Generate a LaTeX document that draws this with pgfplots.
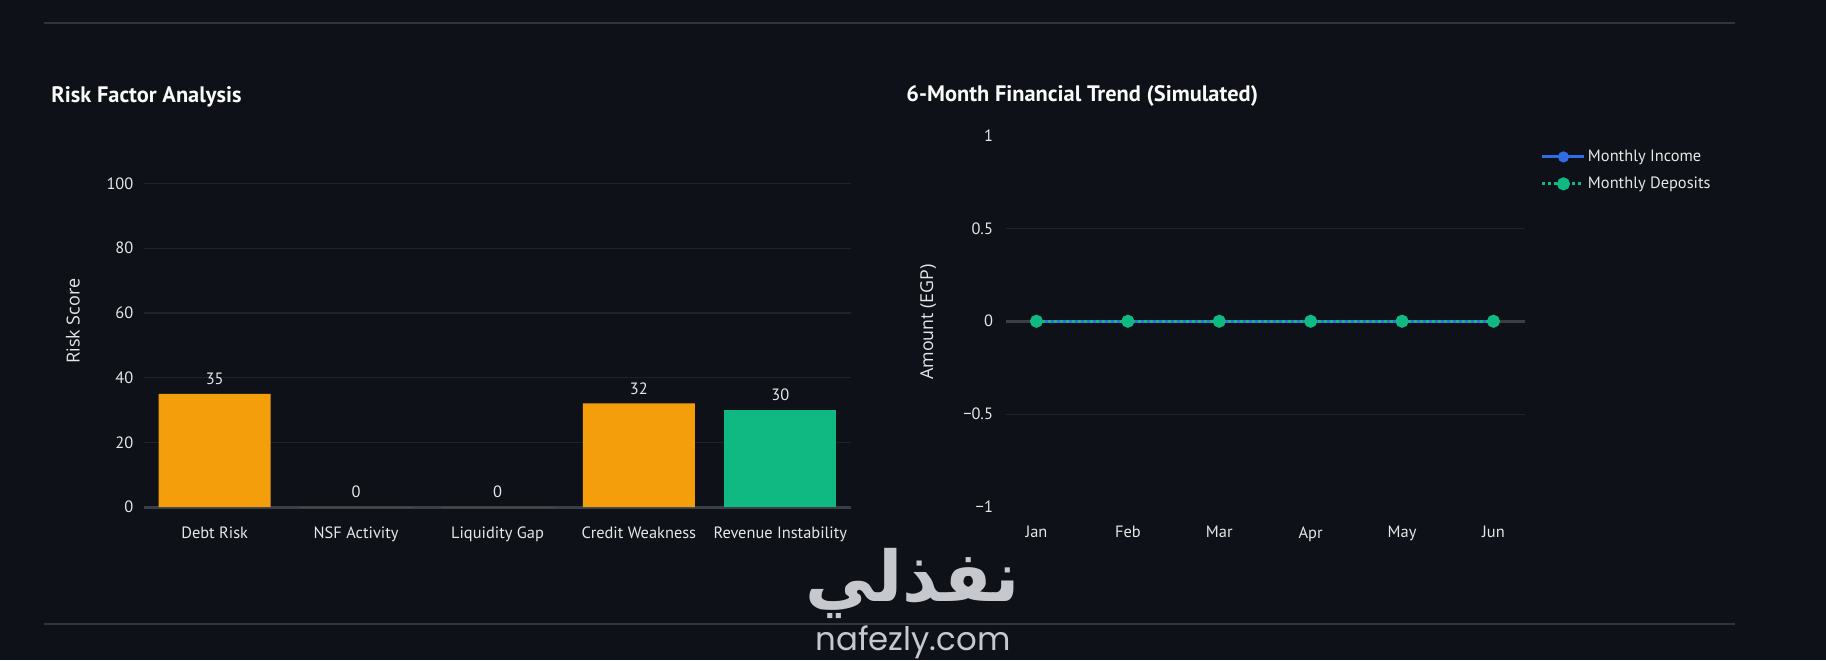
\documentclass[border=0pt]{standalone}
\usepackage{pgfplots}
\usepackage{pgfplotstable}
\pgfplotsset{compat=1.18}
\usepackage{fontspec}
\setmainfont{PT Sans}
\newfontfamily\labfont{Open Sans}
\newfontfamily\arabicfont[Script=Arabic]{DejaVu Sans}
\newfontfamily\wmfont{Poppins}
\TeXXeTstate=1
\definecolor{bg}{HTML}{0E1117}
\definecolor{gridc}{HTML}{1E232C}
\definecolor{zeroc}{HTML}{3A3E46}
\definecolor{sepc}{HTML}{30343C}
\definecolor{txt}{HTML}{E6E6E6}
\definecolor{ttl}{HTML}{FAFAFA}
\definecolor{amber}{HTML}{F59E0B}
\definecolor{emerald}{HTML}{10B981}
\definecolor{blueline}{HTML}{2F6CE5}
\definecolor{wm}{HTML}{C6C8CD}

\pgfplotstableread{
x y
0 35
1 0
2 0
3 32
}\riskOrange
\pgfplotstableread{
x y
4 30
}\riskGreen
\pgfplotstableread{
x y
0 0
1 0
2 0
3 0
4 0
5 0
}\trend

\pgfplotsset{
  darkaxis/.style={
    scale only axis,
    axis line style={draw=none},
    major tick length=0pt,
    ymajorgrids,
    grid style={gridc, line width=0.6pt},
    ticklabel style={font=\fontsize{8.2}{10}\selectfont, text=txt},
    /pgf/number format/assume math mode=true,
    clip=false,
  }
}

\begin{document}
\begin{tikzpicture}
\fill[bg] (0,0) rectangle (913pt,330pt);
\draw[sepc, line width=0.6pt] (22pt,318.5pt) -- (867.5pt,318.5pt);
\draw[sepc, line width=0.6pt] (22pt,18pt) -- (867.5pt,18pt);

\node[anchor=west, inner sep=0pt, font=\bfseries\fontsize{11.2}{13}\selectfont, text=ttl] at (25.5pt,281.8pt) {Risk Factor Analysis};
\node[anchor=west, inner sep=0pt, font=\bfseries\fontsize{11.2}{13}\selectfont, text=ttl] at (453pt,281.8pt) {6-Month Financial Trend (Simulated)};
\node[rotate=90, font=\labfont\fontsize{9}{11}\selectfont, text=txt] at (36.5pt,169.5pt) {Risk Score};
\node[rotate=90, font=\labfont\fontsize{8.9}{11}\selectfont, text=txt] at (464pt,169pt) {Amount (EGP)};

\begin{axis}[darkaxis,
  at={(72pt,76.5pt)}, anchor=south west,
  width=353.5pt, height=161.75pt,
  xmin=-0.5, xmax=4.5, ymin=0, ymax=100,
  ytick={0,20,40,60,80,100},
  xtick={0,1,2,3,4},
  xticklabels={Debt Risk, NSF Activity, Liquidity Gap, Credit Weakness, Revenue Instability},
  extra y ticks={0}, extra y tick labels={},
  extra y tick style={grid=major, grid style={zeroc, line width=1.5pt}},
  xticklabel style={yshift=-6.2pt},
  yticklabel style={xshift=-1.8pt},
  ybar, bar width=56pt,
  nodes near coords,
  every node near coord/.append style={anchor=center, yshift=7.5pt, font=\fontsize{8.2}{10}\selectfont, text=txt},
]
\addplot[fill=amber, draw=none, bar shift=0pt] table {\riskOrange};
\addplot[fill=emerald, draw=none, bar shift=0pt] table {\riskGreen};
\end{axis}

\begin{axis}[darkaxis,
  at={(503pt,76.5pt)}, anchor=south west,
  width=259.5pt, height=185.75pt,
  xmin=-0.333, xmax=5.345, ymin=-1, ymax=1,
  xtick={0,1,2,3,4,5},
  xticklabels={Jan,Feb,Mar,Apr,May,Jun},
  ytick={-0.5,0,0.5},
  yticklabels={−0.5,0,0.5},
  extra y ticks={-1,1}, extra y tick labels={−1,1},
  extra y tick style={grid=none},
  xticklabel style={yshift=-6.2pt},
  yticklabel style={xshift=-3pt},
  legend cell align=left,
  legend style={at={(1.030,0.906)}, anchor=west, draw=none, fill=none,
    font=\fontsize{8.2}{10}\selectfont, text=txt, inner sep=0pt, row sep=4.2pt,
    nodes={inner sep=1pt}},
  legend image code/.code={\draw[mark repeat=2,mark phase=2,#1] plot coordinates {(0pt,0pt) (10.5pt,0pt) (21pt,0pt)};},
]
\draw[zeroc, line width=1.5pt] (axis cs:-0.333,0) -- (axis cs:5.345,0);
\addplot[blueline, line width=1.5pt, mark=*, mark size=2pt, mark options={solid, fill=blueline, draw=blueline}] table {\trend};
\addlegendentry{Monthly Income}
\addplot[emerald, line width=1.5pt, dash pattern=on 1.5pt off 1.5pt, mark=*, mark size=2.5pt, mark options={solid, fill=emerald, draw=emerald}] table {\trend};
\addlegendentry{Monthly Deposits}
\end{axis}

\node[text=wm, font=\arabicfont\bfseries\fontsize{35}{37}\selectfont] at (456.5pt,38.5pt) {\beginR نفذلي\endR};
\node[text=wm, font=\wmfont\fontsize{16.2}{18}\selectfont] at (456.5pt,9pt) {nafezly.com};

\pgfresetboundingbox
\useasboundingbox (0,0) rectangle (913pt,330pt);
\end{tikzpicture}
\end{document}
